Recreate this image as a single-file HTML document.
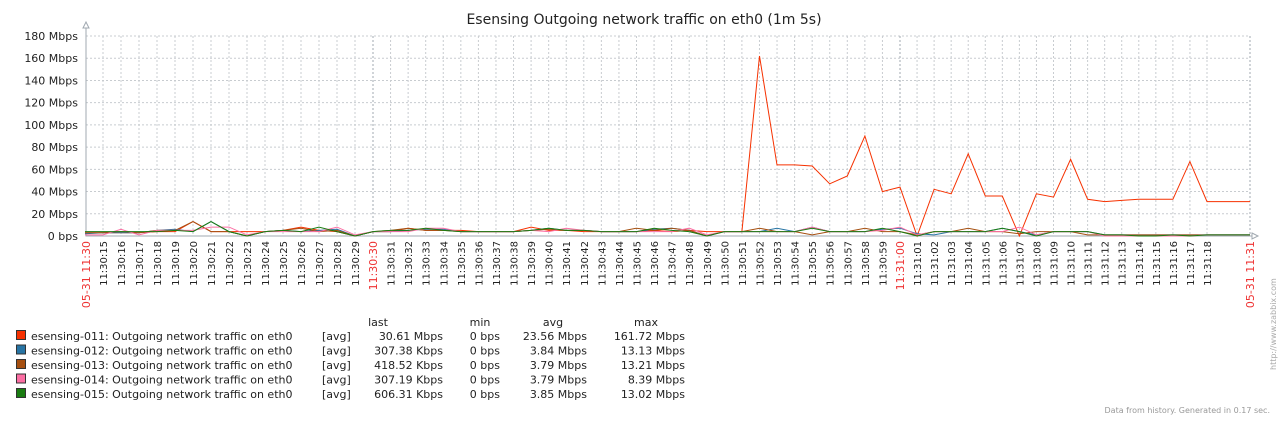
<!DOCTYPE html>
<html><head><meta charset="utf-8">
<style>
body{margin:0;background:#fff;width:1279px;height:418px;overflow:hidden;font-family:"DejaVu Sans","Liberation Sans",sans-serif;}
svg text{font-family:"DejaVu Sans","Liberation Sans",sans-serif;}
</style></head>
<body>
<svg id="chart" width="1279" height="418" xmlns="http://www.w3.org/2000/svg">
<text x="644" y="24" font-size="14" fill="#222" text-anchor="middle">Esensing Outgoing network traffic on eth0 (1m 5s)</text>
<g id="grid"></g><g id="axes"></g><g id="series"></g><g id="legend"></g>
<text transform="translate(1276,370) rotate(-90)" font-size="8" fill="#aaa">http://www.zabbix.com</text>
<text x="1270" y="413" font-size="8" fill="#999" text-anchor="end">Data from history. Generated in 0.17 sec.</text>
</svg>
<script>
const yTicks=[0,20,40,60,80,100,120,140,160,180];
const yTickLabels=["0 bps","20 Mbps","40 Mbps","60 Mbps","80 Mbps","100 Mbps","120 Mbps","140 Mbps","160 Mbps","180 Mbps"];
const seconds=[];for(let s=14;s<=78;s++)seconds.push(s);
const s011=[3,3,3,3,4,4,13,4,4,4,4,5,8,5,4,0,4,4,7,5,5,5,4,4,4,8,5,5,4,4,4,4,5,4,5,4,4,4,162,64,64,63,47,54,90,40,44,0,42,38,74,36,36,0,38,35,69,33,31,32,33,33,33,67,31];
const s012=[2,3,3,3,5,6,4,13,4,0,4,5,4,5,6,0,4,4,5,6,6,4,4,4,4,5,7,5,5,4,4,4,6,7,5,0,4,4,4,7,4,8,4,4,4,6,7,2,1,4,4,4,7,4,1,4,4,4,1,1,1,1,1,1,1];
const s013=[3,3,4,3,5,5,13,4,4,0,4,5,7,4,5,0,4,5,7,5,5,4,4,4,4,5,6,5,5,4,4,7,5,7,5,0,4,4,7,4,4,1,4,4,7,4,4,1,4,4,7,4,4,2,4,4,4,1,1,1,1,1,1,1,1];
const s014=[1,1,6,1,5,5,5,8,8,1,4,4,4,4,8,1,4,4,4,7,7,4,4,4,4,5,4,7,5,4,4,4,4,4,7,1,4,4,4,4,4,8,4,4,4,5,8,1,4,4,4,4,4,8,1,4,4,4,0,0,0,0,0,0,1];
const s015=[4,4,4,4,4,5,4,13,4,0,4,5,4,8,4,0,4,5,5,7,5,4,4,4,4,5,7,5,5,4,4,4,7,5,4,0,4,4,4,4,4,7,4,4,4,7,4,0,4,4,4,4,7,4,0,4,4,4,1,1,0,0,1,0,1];
const legendNames=["esensing-011: Outgoing network traffic on eth0","esensing-012: Outgoing network traffic on eth0","esensing-013: Outgoing network traffic on eth0","esensing-014: Outgoing network traffic on eth0","esensing-015: Outgoing network traffic on eth0"];
const legendLast=["30.61 Mbps","307.38 Kbps","418.52 Kbps","307.19 Kbps","606.31 Kbps"];
const legendMin=["0 bps","0 bps","0 bps","0 bps","0 bps"];
const legendAvg=["23.56 Mbps","3.84 Mbps","3.79 Mbps","3.79 Mbps","3.85 Mbps"];
const legendMax=["161.72 Mbps","13.13 Mbps","13.21 Mbps","8.39 Mbps","13.02 Mbps"];
const colors=["#F63100","#2774A4","#A54F10","#FC6EA3","#1A7C11"];
const NS="http://www.w3.org/2000/svg";
const X0=86,X1=1250,Y0=236,Y1=36;
function xs(s){
  if(s<=30)return 103+(s-15)*18;
  if(s<=60)return 373+(s-30)*(527/30);
  return 900+(s-60)*(307/18);
}
function ys(v){return Y0-(v/180)*(Y0-Y1);}
function mk(tag,attrs,parent,txt){const e=document.createElementNS(NS,tag);for(const k in attrs)e.setAttribute(k,attrs[k]);if(txt!==undefined)e.textContent=txt;parent.appendChild(e);return e;}
const grid=document.getElementById('grid'),axes=document.getElementById('axes'),ser=document.getElementById('series'),leg=document.getElementById('legend');
yTicks.forEach((v,i)=>{
  if(v>0){const l=mk('line',{x1:X0,x2:X1,y1:ys(v),y2:ys(v),stroke:'#c8ccd0','stroke-dasharray':'2,2'},grid);
  
  }
  const t=mk('text',{x:78,y:ys(v)+4,'font-size':11,fill:'#222','text-anchor':'end'},axes,yTickLabels[i]);
  
  
});
function addX(x,label,red){
  const l=mk('line',{x1:x,x2:x,y1:Y1,y2:Y0,stroke:red?'#a0a8b0':'#c8ccd0','stroke-dasharray':'2,2'},grid);
  
  
  const t=mk('text',{transform:`translate(${x+4},${241}) rotate(-90)`,'font-size':red?11:10,fill:red?'#e33':'#222','text-anchor':'end'},axes,label);
  
  
}
addX(X0,"05-31 11:30",true);
for(let s=15;s<=78;s++){
  const m=Math.floor(s/60),sec=s%60;
  const lab="11:"+(30+m)+":"+String(sec).padStart(2,'0');
  if(s===30)addX(xs(s),"11:30:30",true);
  else if(s===60)addX(xs(s),"11:31:00",true);
  else addX(xs(s),lab,false);
}
addX(X1,"05-31 11:31",true);
const ax=mk('path',{d:`M${X0} ${Y1-8} L${X0} ${Y0} L${X1+2} ${Y0}`,stroke:'#a0a8b0',fill:'none'},axes);


const a1=mk('path',{d:`M${X0-3} ${Y1-8} L${X0} ${Y1-14} L${X0+3} ${Y1-8}Z`,stroke:'#a0a8b0',fill:'#fff'},axes);


const a2=mk('path',{d:`M${X1+2} ${Y0-3} L${X1+8} ${Y0} L${X1+2} ${Y0+3}Z`,stroke:'#a0a8b0',fill:'#fff'},axes);


const allSeries=[s011,s012,s013,s014,s015];
allSeries.forEach((arr,i)=>{
  let d=`M${X0} ${ys(arr[0]).toFixed(1)}`;
  arr.forEach((v,j)=>{d+=` L${xs(seconds[j]).toFixed(1)} ${ys(v).toFixed(1)}`;});
  d+=` L${X1} ${ys(arr[arr.length-1]).toFixed(1)}`;
  const p=mk('path',{d:d,stroke:colors[i],fill:'none','stroke-width':1},ser);
  
  
});
[["last",378],["min",480],["avg",553],["max",646]].forEach(h=>{
  const t=mk('text',{x:h[1],y:326,'font-size':11,fill:'#222','text-anchor':'middle'},leg,h[0]);
  
  
});
legendNames.forEach((n,i)=>{
  const y=340+i*14.5;
  const r=mk('rect',{x:16.5,y:y-9.5,width:9,height:9,fill:colors[i],stroke:'#333'},leg);
  
  
  const t=mk('text',{x:31,y:y,'font-size':11,fill:'#222'},leg,n);
  
  
  const a=mk('text',{x:322,y:y,'font-size':11,fill:'#222'},leg,"[avg]");
  
  
  [[legendLast,443],[legendMin,500],[legendAvg,587],[legendMax,685]].forEach(c=>{
    const v=mk('text',{x:c[1],y:y,'font-size':11,fill:'#222','text-anchor':'end'},leg,c[0][i]);
    
    
  });
});
</script>
</body></html>
